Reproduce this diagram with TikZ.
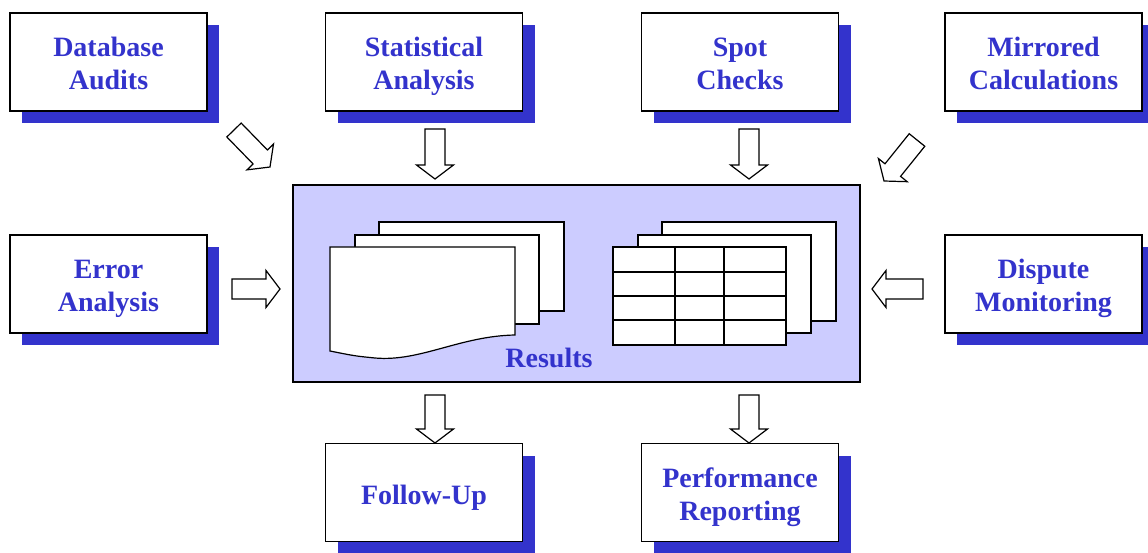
\documentclass[tikz,border=0pt]{standalone}
\usepackage{fontspec}
\setmainfont{Liberation Serif}
\usepackage{tikz}
\usetikzlibrary{calc,shadows}
\definecolor{textblue}{RGB}{51,51,204}
\definecolor{resfill}{RGB}{204,204,255}

\begin{document}
\begin{tikzpicture}[x=1pt,y=-1pt,
	srcbox/.style={draw=black, line width=1.5pt, fill=white,
		minimum width=197pt, minimum height=98pt, align=center,
		text=textblue, font=\bfseries\fontsize{28}{33.5}\selectfont,
		text height=56pt, text depth=0pt,
		drop shadow={shadow xshift=12pt, shadow yshift=-12pt, fill=textblue, opacity=1}},
	oneline/.style={text height=23pt, text depth=0pt},
	sheet/.style={draw=black, line width=1.2pt, fill=white},
	fatarrow/.style={draw=black, line width=1.2pt, fill=white,
		to path={($(\tikztostart)!10pt!90:(\tikztotarget)$)
			-- ($(\tikztotarget)!14pt!(\tikztostart)!10pt!90:(\tikztotarget)$)
			-- ($(\tikztotarget)!14pt!(\tikztostart)!18.5pt!90:(\tikztotarget)$)
			-- (\tikztotarget)
			-- ($(\tikztotarget)!14pt!(\tikztostart)!18.5pt!-90:(\tikztotarget)$)
			-- ($(\tikztotarget)!14pt!(\tikztostart)!10pt!-90:(\tikztotarget)$)
			-- ($(\tikztostart)!10pt!-90:(\tikztotarget)$)
			-- cycle}}]
	\useasboundingbox (0,0) rectangle (1148,553);

	% results panel
	\node[draw=black, line width=1.5pt, fill=resfill, minimum width=567pt,
		minimum height=197pt] (res) at (576.5,283.5) {};
	% report pages
	\draw[sheet] (379,222) rectangle (564,311);
	\draw[sheet] (355,235) rectangle (539,324);
	\draw[sheet] (330,247) -- (515,247) -- (515,335)
		.. controls (460,336) and (420,362) .. (375,358)
		.. controls (355,356) .. (330,351) -- cycle;
	% table pages
	\draw[sheet] (662,222) rectangle (836,321);
	\draw[sheet] (638,235) rectangle (811,333);
	\draw[sheet] (613,247) rectangle (786,345);
	\draw[line width=1.2pt] (675,247) -- (675,345) (724,247) -- (724,345)
		(613,272) -- (786,272) (613,296) -- (786,296) (613,320) -- (786,320);
	\node[text=textblue, font=\bfseries\fontsize{28}{33.5}\selectfont] (reslabel) at (549,358) {Results};

	% inputs and outputs
	\node[srcbox] (dbaudit) at (108.5,62) {Database\\Audits};
	\node[srcbox] (stats) at (424,62) {Statistical\\Analysis};
	\node[srcbox] (spot) at (740,62) {Spot\\Checks};
	\node[srcbox] (mirror) at (1043.5,62) {Mirrored\\Calculations};
	\node[srcbox] (error) at (108.5,284) {Error\\Analysis};
	\node[srcbox] (dispute) at (1043.5,284) {Dispute\\Monitoring};
	\node[srcbox, oneline] (follow) at (424,492.5) {Follow-Up};
	\node[srcbox] (perf) at (740,492.5) {Performance\\Reporting};

	% arrow ends
	\coordinate (dbA) at (234,130);   \coordinate (dbB) at (270,167);
	\coordinate (stA) at (435,129);   \coordinate (stB) at (435,179);
	\coordinate (spA) at (749,129);   \coordinate (spB) at (749,179);
	\coordinate (miA) at (917,140);   \coordinate (miB) at (884,181);
	\coordinate (erA) at (232,289);   \coordinate (erB) at (280,289);
	\coordinate (diA) at (923,289);   \coordinate (diB) at (872,289);
	\coordinate (foA) at (435,395);   \coordinate (foB) at (435,443);
	\coordinate (peA) at (749,395);   \coordinate (peB) at (749,443);

	\draw[fatarrow] (dbA) to (dbB);
	\draw[fatarrow] (stA) to (stB);
	\draw[fatarrow] (spA) to (spB);
	\draw[fatarrow] (miA) to (miB);
	\draw[fatarrow] (erA) to (erB);
	\draw[fatarrow] (diA) to (diB);
	\draw[fatarrow] (foA) to (foB);
	\draw[fatarrow] (peA) to (peB);
\end{tikzpicture}
\end{document}
